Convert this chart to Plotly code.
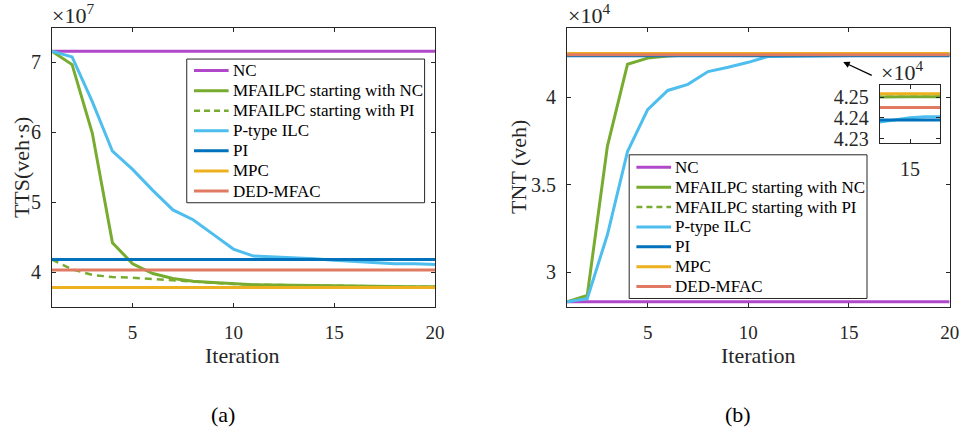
import plotly.graph_objects as go

W, H = 974, 442

# ---------------- data ----------------
iterations = list(range(1, 21))

# (a) TTS, in units of 1e7 veh·s
tts_nc = 7.16
tts_mfailpc_nc = [7.16, 6.97, 5.99, 4.42, 4.12, 3.98, 3.91, 3.87, 3.85, 3.83,
                  3.82, 3.815, 3.81, 3.805, 3.80, 3.80, 3.795, 3.79, 3.79, 3.79]
tts_mfailpc_pi = [4.18, 4.04, 3.96, 3.93, 3.92, 3.90, 3.88, 3.87, 3.85, 3.83,
                  3.82, 3.815, 3.81, 3.805, 3.80, 3.80, 3.795, 3.79, 3.79, 3.79]
tts_ilc = [7.16, 7.08, 6.44, 5.73, 5.47, 5.17, 4.89, 4.75, 4.54, 4.33,
           4.23, 4.22, 4.21, 4.19, 4.17, 4.15, 4.13, 4.12, 4.12, 4.11]
tts_pi = 4.18
tts_mpc = 3.78
tts_dedmfac = 4.03

# (b) TNT, in units of 1e4 veh
tnt_nc = 2.83
tnt_mfailpc_nc = [2.83, 2.866, 3.72, 4.19, 4.225, 4.237, 4.243, 4.246, 4.248, 4.249,
                  4.2495, 4.25, 4.25, 4.2502, 4.2502, 4.2502, 4.2502, 4.2502, 4.2502, 4.2502]
tnt_mfailpc_pi = [4.239, 4.245, 4.248, 4.249, 4.2495, 4.25, 4.25, 4.2502, 4.2502, 4.2502,
                  4.2502, 4.2502, 4.2502, 4.2502, 4.2502, 4.2502, 4.2502, 4.2502, 4.2502, 4.2502]
tnt_ilc = [2.83, 2.848, 3.214, 3.69, 3.93, 4.04, 4.075, 4.148, 4.173, 4.201,
           4.235, 4.237, 4.238, 4.239, 4.2400, 4.2405, 4.2405, 4.2405, 4.2405, 4.2405]
tnt_pi = 4.2389
tnt_mpc = 4.2516
tnt_dedmfac = 4.245

names = ["NC", "MFAILPC starting with NC", "MFAILPC starting with PI",
         "P-type ILC", "PI", "MPC", "DED-MFAC"]
colors = ["#B048C9", "#77AC30", "#77AC30", "#4DBEEE", "#0072BD", "#EDB120", "#E07A62"]
dashes = ["solid", "solid", "7px,5px", "solid", "solid", "solid", "solid"]

left_ticks_y = [4, 5, 6, 7]
right_ticks_y = [3, 3.5, 4]
x_ticks = [5, 10, 15, 20]
inset_ticks_y = [4.23, 4.24, 4.25]
inset_ticks_x = [15]

FONT = "Liberation Serif, Times New Roman, serif"
AX = "#262626"


def px(x):
    return x / W


def py(y):
    return 1 - y / H


def series(v):
    if isinstance(v, list):
        return iterations, v
    return [iterations[0], iterations[-1]], [v, v]


fig = go.Figure()

tts_all = [tts_nc, tts_mfailpc_nc, tts_mfailpc_pi, tts_ilc, tts_pi, tts_mpc, tts_dedmfac]
tnt_all = [tnt_nc, tnt_mfailpc_nc, tnt_mfailpc_pi, tnt_ilc, tnt_pi, tnt_mpc, tnt_dedmfac]

draw_order = [0, 2, 1, 3, 4, 5, 6]
for axes, data in [(("x", "y"), tts_all), (("x2", "y2"), tnt_all), (("x3", "y3"), tnt_all)]:
    for i in draw_order:
        xs, ys = series(data[i])
        fig.add_trace(go.Scatter(
            x=xs, y=ys, mode="lines", name=names[i], showlegend=False,
            line=dict(color=colors[i], width=2.5 if i == 2 else 3, dash=dashes[i]),
            xaxis=axes[0], yaxis=axes[1]))

common = dict(showline=True, linecolor=AX, linewidth=1, mirror="ticks",
              ticks="inside", ticklen=4, tickcolor=AX, showgrid=False,
              zeroline=False)
xfont = dict(family=FONT, size=19, color=AX)
yfont = dict(family=FONT, size=20, color=AX)

ydom = [py(312), py(28)]
fig.update_layout(
    width=W, height=H, margin=dict(l=0, r=0, t=0, b=0),
    paper_bgcolor="white", plot_bgcolor="white", showlegend=False,
    xaxis=dict(domain=[px(52.5), px(439.5)], range=[1, 20], tickvals=x_ticks,
               ticklabelstandoff=8, anchor="y", tickfont=xfont, **common),
    yaxis=dict(domain=ydom, range=[3.5, 7.5], tickvals=left_ticks_y,
               ticklabelstandoff=6, anchor="x", tickfont=yfont, **common),
    xaxis2=dict(domain=[px(573), px(959.5)], range=[1, 20], tickvals=x_ticks,
                ticklabelstandoff=8, anchor="y2", tickfont=xfont, **common),
    yaxis2=dict(domain=ydom, range=[2.8, 4.4], tickvals=right_ticks_y,
                ticklabelstandoff=6, anchor="x2", tickfont=yfont, **common),
    xaxis3=dict(domain=[px(889), px(950)], range=[13, 17], tickvals=inset_ticks_x,
                ticklabelstandoff=8, anchor="y3", tickfont=yfont, **common),
    yaxis3=dict(domain=[py(145), py(86)], range=[4.228, 4.256], tickvals=inset_ticks_y,
                tickformat=".2f", ticklabelstandoff=6, anchor="x3", tickfont=yfont, **common),
)

shapes = []
annotations = []


def legend(x0, y0, x1, y1, row0, dy, sx0, sx1, tx):
    shapes.append(dict(type="rect", xref="paper", yref="paper",
                       x0=px(x0), x1=px(x1), y0=py(y0), y1=py(y1),
                       line=dict(color=AX, width=1), fillcolor="white", layer="above"))
    for i, n in enumerate(names):
        yy = row0 + i * dy
        shapes.append(dict(type="line", xref="paper", yref="paper",
                           x0=px(sx0), x1=px(sx1), y0=py(yy), y1=py(yy),
                           line=dict(color=colors[i], width=2.5 if i == 2 else 3,
                                     dash="6px,4px" if i == 2 else "solid"),
                           layer="above"))
        annotations.append(dict(text=n, xref="paper", yref="paper", x=px(tx), y=py(yy),
                                xanchor="left", yanchor="middle", showarrow=False,
                                font=dict(family=FONT, size=17, color="black")))


legend(188.7, 60, 429, 206, 71.7, 20.4, 196, 231, 233)
legend(635.7, 157.3, 876, 303.3, 170, 20.2, 643, 678, 680)


def text(t, x, y, size=22, angle=0, xanchor="center", yanchor="middle", color=AX):
    annotations.append(dict(text=t, xref="paper", yref="paper", x=px(x), y=py(y),
                            xanchor=xanchor, yanchor=yanchor, textangle=angle,
                            showarrow=False, font=dict(family=FONT, size=size, color=color)))


text("TTS(veh·s)", 22, 170, angle=-90)
text("TNT (veh)", 524, 170, angle=-90)
text("Iteration", 245.5, 361)
text("Iteration", 766, 361)
text("(a)", 225, 421, color="black")
text("(b)", 746, 421, color="black")
text("×10<sup>7</sup>", 51, 14, size=22, xanchor="left")
text("×10<sup>4</sup>", 572, 14, size=22, xanchor="left")
text("×10<sup>4</sup>", 888, 72, size=22, xanchor="left")

annotations.append(dict(text="", xref="paper", yref="paper", x=px(852), y=py(63),
                        ax=30, ay=14, showarrow=True, arrowhead=2, arrowsize=1,
                        arrowwidth=1.3, arrowcolor="black"))

fig.update_layout(shapes=shapes, annotations=annotations)
fig.write_html("out.html")
